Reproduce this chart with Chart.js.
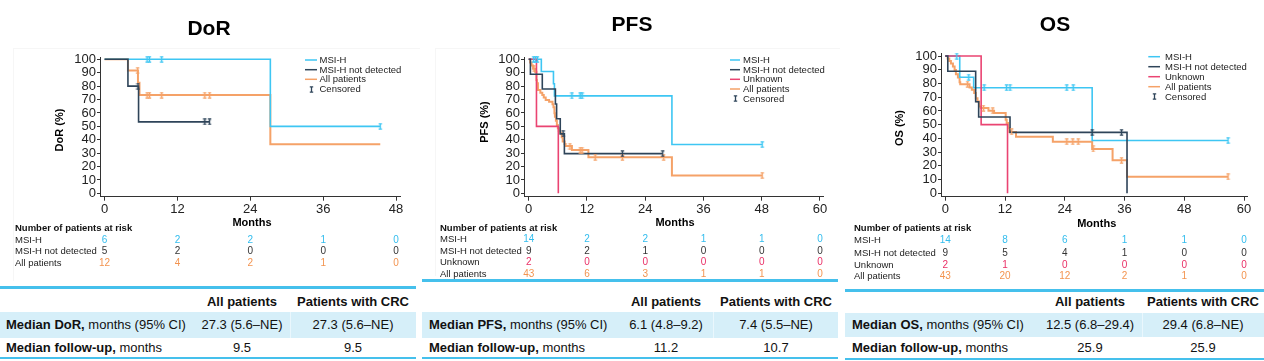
<!DOCTYPE html>
<html><head><meta charset="utf-8">
<script src="https://cdn.jsdelivr.net/npm/chart.js@4.4.1/dist/chart.umd.min.js"></script>
<style>
html,body{margin:0;padding:0;background:#fff;}
#root{position:relative;width:1264px;height:361px;overflow:hidden;font-family:"Liberation Sans",Arial,Helvetica,sans-serif;color:#111;}
#root canvas{position:absolute;top:0;}
.t{position:absolute;font-size:13px;line-height:16px;height:16px;white-space:nowrap;}
.c{text-align:center;width:200px;}
.b{font-weight:bold;}
.ln{position:absolute;background:#45c0ec;}
.band{position:absolute;background:#d6eff9;}
.div{position:absolute;background:#eaf7fd;width:1px;}
.faint{position:absolute;background:#f6f6f6;}
</style></head>
<body><div id="root"></div>
<script>
// ---------------- DATA ----------------
const NAME_MSIH = 'MSI-H';
const NAME_ND = 'MSI-H not detected';
const NAME_UNK = 'Unknown';
const NAME_ALL = 'All patients';
const NAME_CENS = 'Censored';

// DoR
const DOR_TICKS = [0, 12, 24, 36, 48];
const DOR_MSIH_T = [0, 27.3, 45.4];
const DOR_MSIH_S = [100, 50, 50];
const DOR_MSIH_CENS = [7.0, 7.4, 9.4, 45.4];
const DOR_ND_T = [0, 3.85, 5.6, 17.3];
const DOR_ND_S = [100, 80, 53.3, 53.3];
const DOR_ND_CENS = [5.5, 16.5, 17.3];
const DOR_ALL_T = [0, 3.85, 5.5, 5.75, 27.3, 45.4];
const DOR_ALL_S = [100, 91.7, 82.5, 73.3, 36.7, 36.7];
const DOR_ALL_CENS = [5.45, 7.0, 7.4, 9.4, 16.5, 17.3];
const DOR_RISK_MSIH = [6, 2, 2, 1, 0];
const DOR_RISK_ND = [5, 2, 0, 0, 0];
const DOR_RISK_ALL = [12, 4, 2, 1, 0];

// PFS
const PFS_TICKS = [0, 12, 24, 36, 48, 60];
const PFS_MSIH_T = [0, 2.6, 5.1, 5.3, 29.5, 48.1];
const PFS_MSIH_S = [100, 90.9, 81.8, 72.7, 36.4, 36.4];
const PFS_MSIH_CENS = [1.0, 1.4, 1.8, 8.9, 10.6, 11.0, 48.1];
const PFS_ND_T = [0, 0.35, 2.8, 5.5, 5.75, 6.5, 7.35, 27.6];
const PFS_ND_S = [100, 88.9, 77.8, 66.7, 55.6, 44.4, 29.6, 29.6];
const PFS_ND_CENS = [7.1, 19.3, 27.6];
const PFS_UNK_T = [0, 1.6, 6.1];
const PFS_UNK_S = [100, 50, 0];
const PFS_UNK_CENS = [];
const PFS_ALL_T = [0, 0.3, 0.6, 0.9, 1.3, 1.6, 1.7, 1.9, 2.4, 2.8, 3.1, 3.5, 4.2, 4.9, 5.1, 5.3, 5.4, 5.6, 5.8, 6.0, 6.2, 6.5, 6.8, 7.0, 7.4, 7.6, 8.9, 12.3, 29.5, 48.1];
const PFS_ALL_S = [100, 97.7, 95.3, 93.0, 90.7, 84.6, 82.1, 77.1, 75.1, 73.4, 71.6, 69.7, 68.4, 66.4, 64.2, 59.7, 57.2, 54.2, 51.0, 48.5, 46.5, 44.8, 41.8, 38.6, 36.8, 35.3, 32.3, 26.9, 13.4, 13.4];
const PFS_ALL_CENS = [1.1, 8.5, 10.6, 11.0, 13.7, 19.3, 27.8, 48.1];
const PFS_RISK_MSIH = [14, 2, 2, 1, 1, 0];
const PFS_RISK_ND = [9, 2, 1, 0, 0, 0];
const PFS_RISK_UNK = [2, 0, 0, 0, 0, 0];
const PFS_RISK_ALL = [43, 6, 3, 1, 1, 0];

// OS
const OS_TICKS = [0, 12, 24, 36, 48, 60];
const OS_MSIH_T = [0, 2.9, 5.7, 29.5, 56.8];
const OS_MSIH_S = [100, 84.6, 76.9, 38.5, 38.5];
const OS_MSIH_CENS = [2.3, 4.7, 7.8, 12.3, 13.0, 24.4, 25.7, 56.8];
const OS_ND_T = [0, 0.5, 6.1, 6.7, 13.0, 36.5];
const OS_ND_S = [100, 88.9, 66.7, 55.6, 44.4, 0];
const OS_ND_CENS = [29.5, 35.4];
const OS_UNK_T = [0, 7.2, 12.5];
const OS_UNK_S = [100, 50, 0];
const OS_UNK_CENS = [];
const OS_ALL_T = [0, 0.47, 0.8, 1.13, 1.53, 1.87, 2.13, 2.53, 2.87, 3.0, 4.87, 5.33, 5.8, 6.13, 6.47, 6.8, 7.13, 8.67, 9.8, 12.13, 12.33, 12.6, 12.87, 14.2, 21.6, 29.5, 33.6, 36.5, 56.8];
const OS_ALL_S = [100, 98.3, 96.4, 94.5, 92.3, 89.9, 86.7, 84.3, 80.9, 79.5, 77.1, 75.4, 73.0, 69.3, 66.9, 63.3, 62.1, 60.1, 58.5, 53.6, 51.2, 47.6, 44.7, 41.2, 37.6, 32.3, 24.0, 12.0, 12.0];
const OS_ALL_CENS = [4.47, 7.67, 9.53, 13.33, 24.4, 25.6, 26.7, 29.7, 35.4, 56.8];
const OS_RISK_MSIH = [14, 8, 6, 1, 1, 0];
const OS_RISK_ND = [9, 5, 4, 1, 0, 0];
const OS_RISK_UNK = [2, 1, 0, 0, 0, 0];
const OS_RISK_ALL = [43, 20, 12, 2, 1, 0];

// Summary tables
const TABLE_COLS = ['All patients', 'Patients with CRC'];
const DOR_MEDIAN = ['27.3 (5.6–NE)', '27.3 (5.6–NE)'];
const DOR_FOLLOW = ['9.5', '9.5'];
const PFS_MEDIAN = ['6.1 (4.8–9.2)', '7.4 (5.5–NE)'];
const PFS_FOLLOW = ['11.2', '10.7'];
const OS_MEDIAN = ['12.5 (6.8–29.4)', '29.4 (6.8–NE)'];
const OS_FOLLOW = ['25.9', '25.9'];

// ---------------- STYLE ----------------
const FF = '"Liberation Sans", Arial, Helvetica, sans-serif';
const COL = {
  msih: {line: '#3ec6f3', num: '#33bdee', w: 1.6},
  nd:   {line: '#2e4459', num: '#333333', w: 1.6},
  unk:  {line: '#ea4472', num: '#ea2f66', w: 1.6},
  all:  {line: '#f5a268', num: '#f39450', w: 2.0}
};

function stepAt(T, S, t) {
  let v = S[0];
  for (let i = 0; i < T.length; i++) { if (T[i] <= t) v = S[i]; }
  return v;
}

function censorMark(color) {
  const c = document.createElement('canvas');
  c.width = 5; c.height = 7;
  const g = c.getContext('2d');
  g.strokeStyle = color; g.lineWidth = 1.3;
  g.beginPath();
  g.moveTo(2.5, 0.5); g.lineTo(2.5, 6.5);
  g.moveTo(0.8, 0.8); g.lineTo(4.2, 0.8);
  g.moveTo(0.8, 6.2); g.lineTo(4.2, 6.2);
  g.stroke();
  return c;
}

const panels = [
  {
    left: 0, w: 420, h: 286,
    area: {left: 100, right: 400, top: 57.3, bottom: 196.7},
    xmin: -0.75, xmax: 48.65, ymin: -2.5, ymax: 101.5, ticks: DOR_TICKS,
    title: 'DoR', titleX: 209, titleY: 29,
    ytitle: 'DoR (%)', ytX: 60, ytY: 130,
    xtX: 252, xtY: 223,
    leg: {x0: 305, x1: 317, tx: 319.5, ys: [60, 69.7, 79.3, 89]},
    risk: {x: 15, head: 228, ys: [240, 251.7, 263]},
    series: [
      {key: 'nd', name: NAME_ND, T: DOR_ND_T, S: DOR_ND_S, C: DOR_ND_CENS, risk: DOR_RISK_ND},
      {key: 'msih', name: NAME_MSIH, T: DOR_MSIH_T, S: DOR_MSIH_S, C: DOR_MSIH_CENS, risk: DOR_RISK_MSIH},
      {key: 'all', name: NAME_ALL, T: DOR_ALL_T, S: DOR_ALL_S, C: DOR_ALL_CENS, risk: DOR_RISK_ALL}
    ],
    legendOrder: ['msih', 'nd', 'all'],
    table: {left: 0, right: 416, top: 287, head: 302, bandTop: 312, bandBot: 338, r1: 325, r2: 348, bottom: 357.5,
            lx: 6, cx: [242, 353], dv: 290, label: 'Median DoR,', med: DOR_MEDIAN, fol: DOR_FOLLOW},
    faint: {x: 13, y: 48, r: 420, b: 281}
  },
  {
    left: 420, w: 420, h: 281,
    area: {left: 104, right: 403.3, top: 57.3, bottom: 196.7},
    xmin: -0.968, xmax: 60.68, ymin: -2.5, ymax: 101.5, ticks: PFS_TICKS,
    title: 'PFS', titleX: 212, titleY: 25,
    ytitle: 'PFS (%)', ytX: 65, ytY: 122,
    xtX: 255, xtY: 223,
    leg: {x0: 310, x1: 320, tx: 323, ys: [60, 69.7, 79.3, 89, 98.7]},
    risk: {x: 20, head: 228, ys: [239.3, 251, 262.7, 274.3]},
    series: [
      {key: 'nd', name: NAME_ND, T: PFS_ND_T, S: PFS_ND_S, C: PFS_ND_CENS, risk: PFS_RISK_ND},
      {key: 'unk', name: NAME_UNK, T: PFS_UNK_T, S: PFS_UNK_S, C: PFS_UNK_CENS, risk: PFS_RISK_UNK},
      {key: 'msih', name: NAME_MSIH, T: PFS_MSIH_T, S: PFS_MSIH_S, C: PFS_MSIH_CENS, risk: PFS_RISK_MSIH},
      {key: 'all', name: NAME_ALL, T: PFS_ALL_T, S: PFS_ALL_S, C: PFS_ALL_CENS, risk: PFS_RISK_ALL}
    ],
    legendOrder: ['msih', 'nd', 'unk', 'all'],
    table: {left: 422, right: 838, top: 280, head: 302, bandTop: 312, bandBot: 337.5, r1: 325, r2: 348, bottom: 358,
            lx: 429, cx: [666, 776], dv: 713, label: 'Median PFS,', med: PFS_MEDIAN, fol: PFS_FOLLOW},
    faint: {x: 435, y: 48, r: 840, b: 276}
  },
  {
    left: 840, w: 424, h: 291,
    area: {left: 101, right: 407, top: 53.3, bottom: 196.7},
    xmin: -0.864, xmax: 60.6, ymin: -2.5, ymax: 102, ticks: OS_TICKS,
    title: 'OS', titleX: 215, titleY: 25,
    ytitle: 'OS (%)', ytX: 60, ytY: 128,
    xtX: 256.7, xtY: 224,
    leg: {x0: 308.3, x1: 320, tx: 325, ys: [56.7, 66.7, 76.7, 86.7, 96.7]},
    risk: {x: 14, head: 228.3, ys: [240, 253.3, 265, 276.7]},
    series: [
      {key: 'nd', name: NAME_ND, T: OS_ND_T, S: OS_ND_S, C: OS_ND_CENS, risk: OS_RISK_ND},
      {key: 'unk', name: NAME_UNK, T: OS_UNK_T, S: OS_UNK_S, C: OS_UNK_CENS, risk: OS_RISK_UNK},
      {key: 'msih', name: NAME_MSIH, T: OS_MSIH_T, S: OS_MSIH_S, C: OS_MSIH_CENS, risk: OS_RISK_MSIH},
      {key: 'all', name: NAME_ALL, T: OS_ALL_T, S: OS_ALL_S, C: OS_ALL_CENS, risk: OS_RISK_ALL}
    ],
    legendOrder: ['msih', 'nd', 'unk', 'all'],
    table: {left: 845, right: 1264, top: 290, head: 302, bandTop: 313, bandBot: 337, r1: 325, r2: 348, bottom: 359,
            lx: 852, cx: [1090, 1203], dv: 1142, label: 'Median OS,', med: OS_MEDIAN, fol: OS_FOLLOW},
    faint: null
  }
];

const root = document.getElementById('root');

function addEl(cls, css, html) {
  const d = document.createElement('div');
  d.className = cls;
  Object.assign(d.style, css);
  if (html !== undefined) d.innerHTML = html;
  root.appendChild(d);
  return d;
}

function buildTable(t) {
  addEl('ln', {left: t.left + 'px', width: (t.right - t.left) + 'px', top: (t.top - 1.5) + 'px', height: '3px'});
  addEl('band', {left: t.left + 'px', width: (t.right - t.left) + 'px', top: t.bandTop + 'px', height: (t.bandBot - t.bandTop) + 'px'});
  addEl('div', {left: t.dv + 'px', top: t.bandTop + 'px', height: (t.bandBot - t.bandTop) + 'px'});
  addEl('ln', {left: t.left + 'px', width: (t.right - t.left) + 'px', top: (t.bottom - 1) + 'px', height: '2px'});
  TABLE_COLS.forEach((c, i) => addEl('t c b', {left: (t.cx[i] - 100) + 'px', top: (t.head - 8) + 'px'}, c));
  addEl('t', {left: t.lx + 'px', top: (t.r1 - 8) + 'px'}, '<b>' + t.label + '</b> months (95% CI)');
  addEl('t', {left: t.lx + 'px', top: (t.r2 - 8) + 'px'}, '<b>Median follow-up,</b> months');
  t.med.forEach((v, i) => addEl('t c', {left: (t.cx[i] - 100) + 'px', top: (t.r1 - 8) + 'px'}, v));
  t.fol.forEach((v, i) => addEl('t c', {left: (t.cx[i] - 100) + 'px', top: (t.r2 - 8) + 'px'}, v));
}

function decorPlugin(p) {
  return {
    id: 'decor',
    afterDraw(chart) {
      const ctx = chart.ctx;
      const xs = chart.scales.x;
      ctx.save();
      ctx.textBaseline = 'middle';
      // title
      ctx.fillStyle = '#000';
      ctx.textAlign = 'center';
      ctx.font = 'bold 21px ' + FF;
      ctx.fillText(p.title, p.titleX, p.titleY);
      // y title
      ctx.save();
      ctx.translate(p.ytX, p.ytY);
      ctx.rotate(-Math.PI / 2);
      ctx.font = 'bold 11px ' + FF;
      ctx.fillText(p.ytitle, 0, 0);
      ctx.restore();
      // x title
      ctx.font = 'bold 11px ' + FF;
      ctx.fillText('Months', p.xtX, p.xtY);
      // legend
      ctx.textAlign = 'left';
      ctx.font = '9.5px ' + FF;
      p.legendOrder.forEach((k, i) => {
        const s = p.series.find(q => q.key === k);
        const y = p.leg.ys[i];
        ctx.strokeStyle = COL[k].line;
        ctx.lineWidth = 1.5;
        ctx.beginPath(); ctx.moveTo(p.leg.x0, y); ctx.lineTo(p.leg.x1, y); ctx.stroke();
        ctx.fillStyle = '#222';
        ctx.fillText(s.name, p.leg.tx, y + 0.5);
      });
      const cy = p.leg.ys[p.legendOrder.length];
      const cm = censorMark('#2e4459');
      ctx.drawImage(cm, Math.round((p.leg.x0 + p.leg.x1) / 2 - 2.5), Math.round(cy - 3.5));
      ctx.fillStyle = '#222';
      ctx.fillText(NAME_CENS, p.leg.tx, cy + 0.5);
      // risk table
      ctx.fillStyle = '#111';
      ctx.font = 'bold 9.5px ' + FF;
      ctx.fillText('Number of patients at risk', p.risk.x, p.risk.head);
      p.legendOrder.forEach((k, i) => {
        const s = p.series.find(q => q.key === k);
        const y = p.risk.ys[i];
        ctx.textAlign = 'left';
        ctx.fillStyle = '#222';
        ctx.font = '9.5px ' + FF;
        ctx.fillText(s.name, p.risk.x, y);
        ctx.textAlign = 'center';
        ctx.fillStyle = COL[k].num;
        ctx.font = '10px ' + FF;
        s.risk.forEach((v, j) => ctx.fillText(String(v), xs.getPixelForValue(p.ticks[j]), y));
      });
      ctx.restore();
    }
  };
}

function buildChart(p) {
  const cv = document.createElement('canvas');
  cv.width = p.w; cv.height = p.h;
  cv.style.left = p.left + 'px';
  cv.style.width = p.w + 'px'; cv.style.height = p.h + 'px';
  root.appendChild(cv);
  const datasets = [];
  p.series.forEach(s => {
    if (!s.C.length) return;
    datasets.push({
      data: s.C.map(t => ({x: t, y: stepAt(s.T, s.S, t)})),
      showLine: false, pointStyle: censorMark(COL[s.key].line),
      pointRadius: 3, pointHoverRadius: 3, borderColor: COL[s.key].line, backgroundColor: COL[s.key].line,
      clip: false
    });
  });
  p.series.forEach(s => {
    datasets.push({
      data: s.T.map((t, i) => ({x: t, y: s.S[i]})),
      stepped: true, borderColor: COL[s.key].line, borderWidth: COL[s.key].w,
      pointRadius: 0, pointHoverRadius: 0, fill: false, tension: 0, clip: false
    });
  });
  const XH = 30;
  new Chart(cv, {
    type: 'line',
    data: {datasets},
    plugins: [decorPlugin(p)],
    options: {
      responsive: false, animation: false, events: [],
      layout: {padding: {left: 0, right: p.w - p.area.right, top: p.area.top, bottom: p.h - p.area.bottom - XH}},
      plugins: {legend: {display: false}, tooltip: {enabled: false}, title: {display: false}},
      scales: {
        x: {
          type: 'linear', min: p.xmin, max: p.xmax,
          afterBuildTicks: sc => { sc.ticks = p.ticks.map(v => ({value: v})); },
          afterFit: sc => { sc.height = XH; },
          grid: {display: true, drawOnChartArea: false, drawTicks: true, tickLength: 4, color: '#333', lineWidth: 1},
          border: {display: true, color: '#333', width: 1},
          ticks: {font: {size: 13, family: FF}, color: '#222', padding: 1, maxRotation: 0, autoSkip: false}
        },
        y: {
          type: 'linear', min: p.ymin, max: p.ymax,
          afterBuildTicks: sc => { sc.ticks = [0,10,20,30,40,50,60,70,80,90,100].map(v => ({value: v})); },
          afterFit: sc => { sc.width = p.area.left; },
          grid: {display: true, drawOnChartArea: false, drawTicks: true, tickLength: 3, color: '#333', lineWidth: 1},
          border: {display: true, color: '#333', width: 1},
          ticks: {font: {size: 13, family: FF}, color: '#222', padding: 1, autoSkip: false}
        }
      }
    }
  });
}

panels.forEach(p => {
  if (p.faint) {
    addEl('faint', {left: p.faint.x + 'px', top: p.faint.y + 'px', width: (p.faint.r - p.faint.x) + 'px', height: '1px'});
    addEl('faint', {left: p.faint.x + 'px', top: p.faint.y + 'px', width: '1px', height: (p.faint.b - p.faint.y) + 'px'});
  }
  buildTable(p.table);
  buildChart(p);
});
</script>
</body></html>
